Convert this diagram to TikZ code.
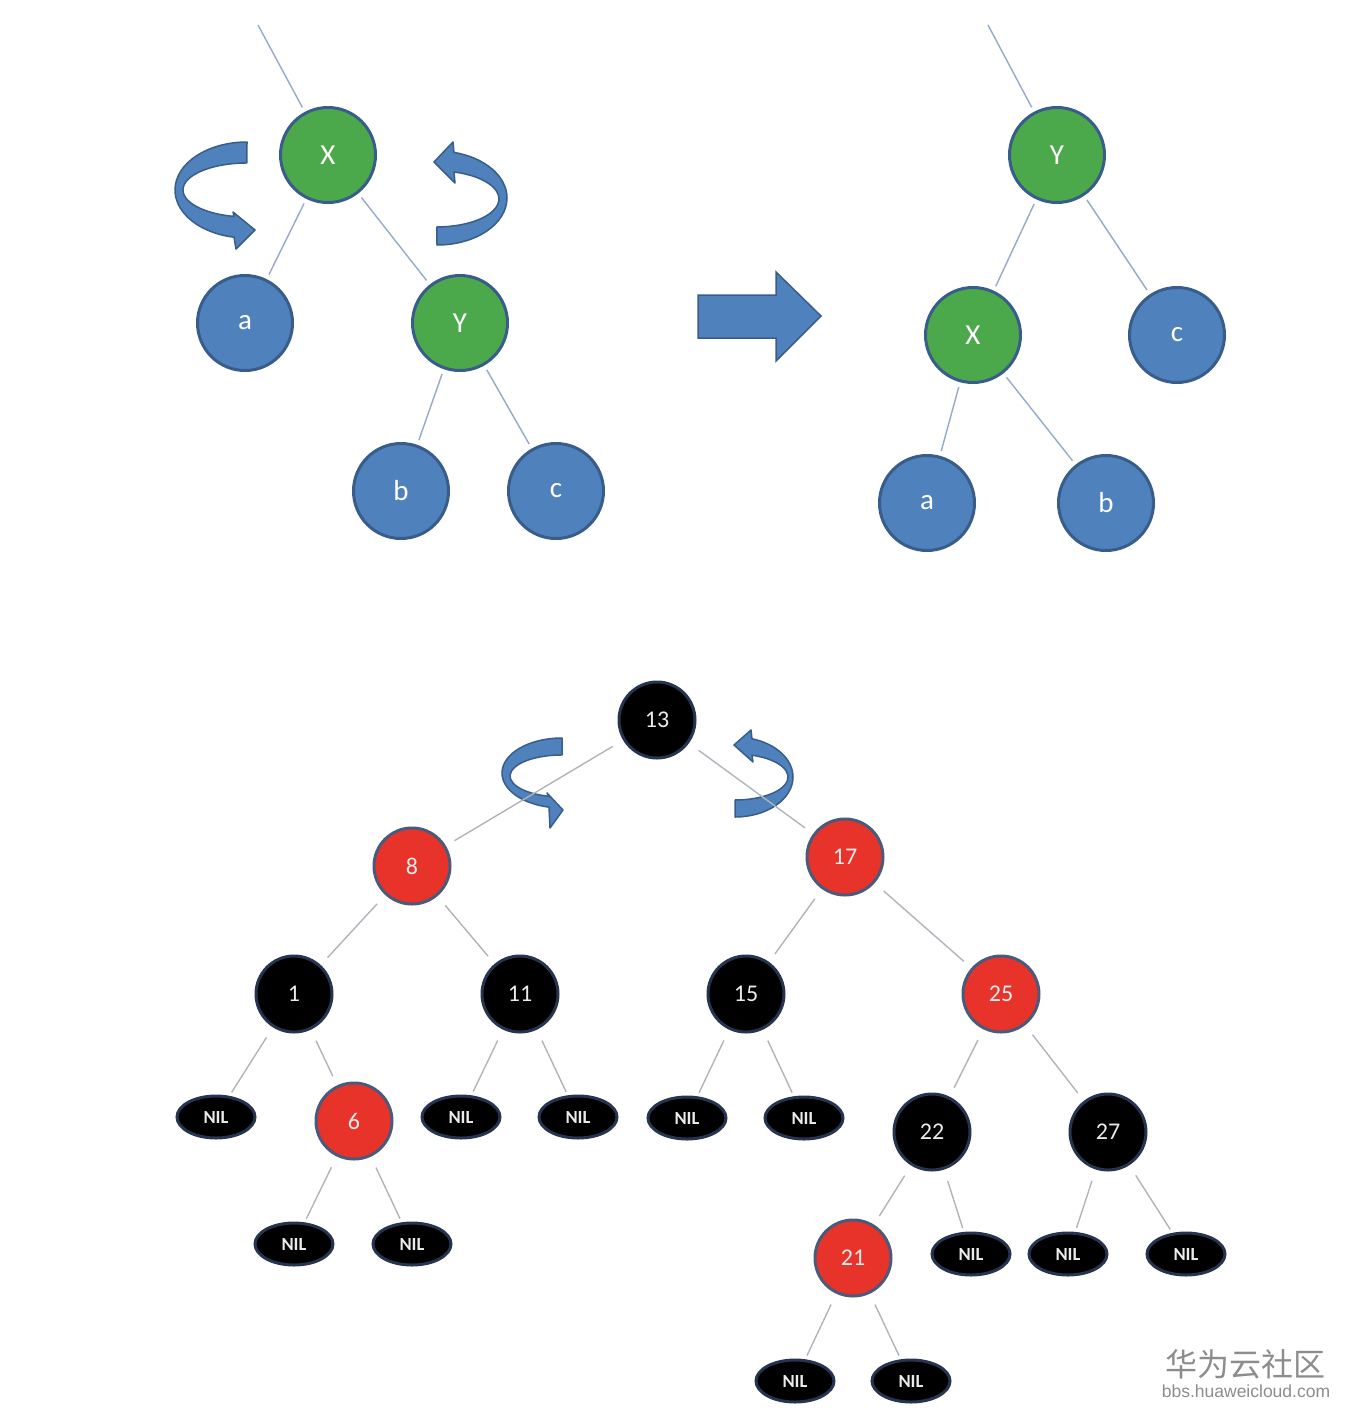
\documentclass[tikz,border=0pt]{standalone}
\usepackage{fontspec}
\setmainfont{Carlito}
\newfontfamily\cjk{Noto Sans CJK SC}
\newfontfamily\arialf{Liberation Sans}
\usetikzlibrary{shapes.geometric}
\definecolor{nblue}{HTML}{4F81BD}
\definecolor{dblue}{HTML}{41699F}
\definecolor{bblue}{HTML}{385D8A}
\definecolor{ngreen}{HTML}{4CA94B}
\definecolor{nred}{HTML}{E8332B}
\definecolor{rborder}{HTML}{4A5A7A}
\definecolor{kborder}{HTML}{26344F}
\definecolor{edgeblue}{HTML}{94AACB}
\definecolor{edgegray}{HTML}{B0B4BA}
\definecolor{wm}{HTML}{8C8C8C}
\begin{document}
\begin{tikzpicture}[x=1pt,y=-1pt,
  big/.style={circle, minimum size=95pt, line width=3pt, draw=bblue, text=white,
    font=\fontsize{29}{31}\selectfont, inner sep=0pt},
  gnode/.style={big, fill=ngreen},
  bnode/.style={big, fill=nblue},
  rb/.style={circle, minimum size=76pt, line width=3pt, inner sep=0pt,
    font=\fontsize{24}{26}\selectfont, text=white!92!black},
  blk/.style={rb, fill=black, draw=kborder},
  rednode/.style={rb, fill=nred, draw=rborder},
  nil/.style={ellipse, minimum width=78pt, minimum height=42pt, inner sep=0pt,
    fill=black, draw=kborder, line width=3pt, text=white!92!black,
    font=\bfseries\fontsize{18.5}{19}\selectfont},
  tedge/.style={draw=edgeblue, line width=1.4pt, shorten <=5pt, shorten >=5pt},
  bedge/.style={draw=edgegray, line width=1.4pt, shorten <=12pt, shorten >=10pt},
  swirl/.style={fill=nblue, draw=bblue, line width=1.5pt, line join=round}
]
\useasboundingbox (0,0) rectangle (1360,1428);

% ---------- top left tree ----------
\coordinate (xp) at (258,25);
\node[gnode] (X1) at (328,155) {X};
\node[bnode] (a1) at (245,323) {a};
\node[gnode] (Y1) at (460,323) {Y};
\node[bnode] (b1) at (401,491) {b};
\node[bnode] (c1) at (556,491) {c};
\draw[tedge, shorten <=0pt] (xp) -- (X1);
\draw[tedge] (X1) -- (a1);
\draw[tedge] (X1) -- (Y1);
\draw[tedge] (Y1) -- (b1);
\draw[tedge] (Y1) -- (c1);

% curved arrows (top)
\path[swirl] (247,142) arc[start angle=270, end angle=100.4, x radius=72, y radius=48]
  -- (236,249) -- (255,230) -- (233,212) -- (234,216.4)
  arc[start angle=101.7, end angle=270, x radius=64, y radius=27] -- cycle;
\path[swirl] (437,245) arc[start angle=90, end angle=-76, x radius=70, y radius=47]
  -- (453,142) -- (434,162) -- (455,183) -- (454,172)
  arc[start angle=-74, end angle=90, x radius=62, y radius=28] -- cycle;

% big arrow
\path[fill=nblue, draw=bblue, line width=1.5pt, line join=miter]
  (698,295) -- (776,295) -- (776,272) -- (821,316) -- (776,361) -- (776,338) -- (698,338) -- cycle;

% ---------- top right tree ----------
\coordinate (yp) at (988,25);
\node[gnode] (Y2) at (1057,155) {Y};
\node[gnode] (X2) at (973,335) {X};
\node[bnode] (c2) at (1177,335) {c};
\node[bnode] (a2) at (927,503) {a};
\node[bnode] (b2) at (1106,503) {b};
\draw[tedge, shorten <=0pt] (yp) -- (Y2);
\draw[tedge] (Y2) -- (X2);
\draw[tedge] (Y2) -- (c2);
\draw[tedge] (X2) -- (a2);
\draw[tedge] (X2) -- (b2);

% ---------- bottom tree ----------
% curved arrows
\path[swirl] (562,738) arc[start angle=270, end angle=102.5, x radius=60, y radius=35]
  -- (550,828) -- (563,810) -- (547,793) -- (549,796.3)
  arc[start angle=104.5, end angle=270, x radius=52, y radius=21] -- cycle;
\path[swirl] (735,817) arc[start angle=90, end angle=-73, x radius=58, y radius=40]
  -- (751,730) -- (734,745) -- (753,762) -- (752,755.2)
  arc[start angle=-71.3, end angle=90, x radius=53, y radius=23] -- cycle;

\node[blk] (n13) at (657,720) {13};
\node[rednode] (n8) at (412,866) {8};
\node[rednode] (n17) at (845,857) {17};
\node[blk] (n1) at (294,994) {1};
\node[blk] (n11) at (520,994) {11};
\node[blk] (n15) at (746,994) {15};
\node[rednode] (n25) at (1001,994) {25};
\node[nil] (l1) at (216,1117) {NIL};
\node[rednode] (n6) at (354,1121) {6};
\node[nil] (l2) at (461,1117) {NIL};
\node[nil] (l3) at (578,1117) {NIL};
\node[nil] (l4) at (687,1118) {NIL};
\node[nil] (l5) at (804,1118) {NIL};
\node[blk] (n22) at (932,1132) {22};
\node[blk] (n27) at (1108,1132) {27};
\node[nil] (l6) at (294,1244) {NIL};
\node[nil] (l7) at (412,1244) {NIL};
\node[rednode] (n21) at (853,1258) {21};
\node[nil] (l8) at (971,1254) {NIL};
\node[nil] (l9) at (1068,1254) {NIL};
\node[nil] (l10) at (1186,1254) {NIL};
\node[nil] (l11) at (795,1381) {NIL};
\node[nil] (l12) at (911,1381) {NIL};

\draw[bedge] (n13) -- (n8);
\draw[bedge] (n13) -- (n17);
\draw[bedge] (n8) -- (n1);
\draw[bedge] (n8) -- (n11);
\draw[bedge] (n17) -- (n15);
\draw[bedge] (n17) -- (n25);
\draw[bedge, shorten >=4pt] (n1) -- (l1);
\draw[bedge] (n1) -- (n6);
\draw[bedge, shorten >=4pt] (n11) -- (l2);
\draw[bedge, shorten >=4pt] (n11) -- (l3);
\draw[bedge, shorten >=4pt] (n15) -- (l4);
\draw[bedge, shorten >=4pt] (n15) -- (l5);
\draw[bedge] (n25) -- (n22);
\draw[bedge] (n25) -- (n27);
\draw[bedge, shorten >=4pt] (n6) -- (l6);
\draw[bedge, shorten >=4pt] (n6) -- (l7);
\draw[bedge] (n22) -- (n21);
\draw[bedge, shorten >=4pt] (n22) -- (l8);
\draw[bedge, shorten >=4pt] (n27) -- (l9);
\draw[bedge, shorten >=4pt] (n27) -- (l10);
\draw[bedge, shorten >=4pt] (n21) -- (l11);
\draw[bedge, shorten >=4pt] (n21) -- (l12);

% watermark
\node[text=wm, font=\cjk\fontsize{32}{32}\selectfont, inner sep=0pt] (wm1) at (1245,1364) {华为云社区};
\node[text=wm, font=\arialf\fontsize{17.5}{18}\selectfont, inner sep=0pt] (wm2) at (1246,1391) {bbs.huaweicloud.com};
\end{tikzpicture}
\end{document}
